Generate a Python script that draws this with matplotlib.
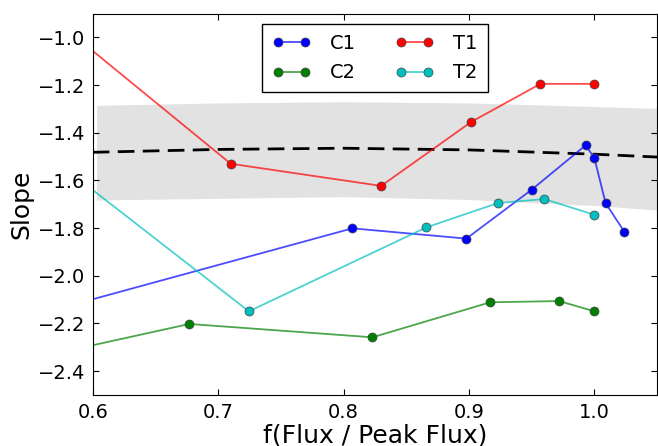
import numpy as np
import matplotlib
matplotlib.use("Agg")
import matplotlib.pyplot as plt

# series (first point of each lies left of the axis)
c1_x = [0.55, 0.807, 0.898, 0.950, 0.993, 1.000, 1.009, 1.024]
c1_y = [-2.17, -1.801, -1.844, -1.639, -1.453, -1.505, -1.695, -1.816]

c2_x = [0.55, 0.677, 0.823, 0.917, 0.972, 1.000]
c2_y = [-2.349, -2.202, -2.258, -2.111, -2.106, -2.149]

t1_x = [0.55, 0.710, 0.830, 0.902, 0.957, 1.000]
t1_y = [-0.842, -1.530, -1.623, -1.354, -1.195, -1.195]

t2_x = [0.55, 0.7245, 0.866, 0.923, 0.960, 1.000]
t2_y = [-1.436, -2.149, -1.797, -1.695, -1.678, -1.744]

# model curve with its band
fit_x = [0.603, 0.7, 0.8, 0.9, 1.0, 1.05]
fit_y = [-1.482, -1.470, -1.465, -1.472, -1.490, -1.502]
band_lo = [-1.682, -1.675, -1.668, -1.680, -1.705, -1.724]
band_hi = [-1.285, -1.275, -1.270, -1.275, -1.290, -1.298]

plt.rcParams['font.family'] = 'DejaVu Sans'
fig = plt.figure(figsize=(6.58, 4.46), dpi=100)
ax = fig.add_axes([0.141, 0.1143, 0.8575, 0.8554])

ax.fill_between(fit_x, band_lo, band_hi, color='#e2e2e2', lw=0)
ax.plot([0.6] + fit_x[1:], fit_y, 'k--', lw=2, dashes=(6, 3))

series = [(c1_x, c1_y, (0, 0, 1), 'C1'), (c2_x, c2_y, (0, 0.5, 0), 'C2'),
          (t1_x, t1_y, (1, 0, 0), 'T1'), (t2_x, t2_y, (0, 0.75, 0.75), 'T2')]
for xs, ys, col, lab in series:
    ax.plot(xs, ys, 'o-', color=col + (0.7,), lw=1.3, mfc=col,
            mec='#444444', mew=0.5, ms=6.5, label=lab)

ax.set_xlim(0.6, 1.05)
ax.set_ylim(-2.5, -0.9)
ax.set_xticks([0.6, 0.7, 0.8, 0.9, 1.0])
ax.set_yticks([-2.4, -2.2, -2.0, -1.8, -1.6, -1.4, -1.2, -1.0])
ax.tick_params(direction='in', top=True, right=True, labelsize=14, length=4, pad=5.5)
ax.set_xlabel('f(Flux / Peak Flux)', fontsize=18, labelpad=1)
ax.set_ylabel('Slope', fontsize=18, labelpad=3)

ax.legend(loc='upper center', bbox_to_anchor=(0.5, 0.998), ncol=2, numpoints=2,
          fontsize=14, fancybox=False, edgecolor='k', framealpha=1,
          columnspacing=2.0, handlelength=2.0, handletextpad=1.0,
          labelspacing=0.55, borderpad=0.5)

fig.savefig('out.png', dpi=100)
